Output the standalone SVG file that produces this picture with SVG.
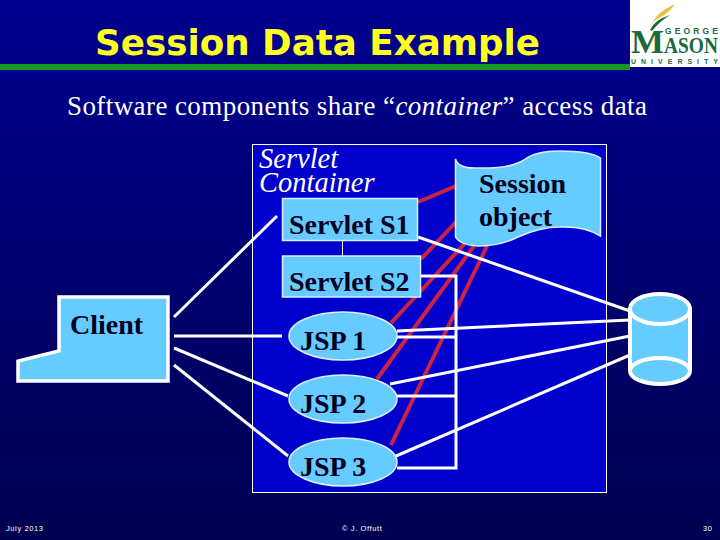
<svg xmlns="http://www.w3.org/2000/svg" width="720" height="540" viewBox="0 0 720 540">
<style>
.w{stroke:#fff;fill:none;stroke-width:3}
.r{stroke:#cc2244;fill:none;stroke-width:4}
.n{fill:#66ccff;stroke:#ddeeff;stroke-width:1.5}
.t{font-family:"Liberation Serif",serif;font-weight:bold;font-size:28px;fill:#000022}
.c{font-family:"Liberation Serif",serif;font-style:italic;font-size:28.500px;fill:#fff}
.f{font-family:"Liberation Sans",sans-serif;font-size:7.500px;letter-spacing:.6px;fill:#fff}
.g{fill:#1a6b3c}
</style>
<defs><linearGradient id="bg" x1="0" y1="0" x2="0" y2="1"><stop offset="0" stop-color="#000090"/><stop offset="1" stop-color="#000050"/></linearGradient></defs>
<rect width="720" height="540" fill="url(#bg)"/>
<rect x="0" y="64" width="630" height="6" fill="#129a22"/>
<rect x="630" y="0" width="90" height="67" fill="#fff"/>
<g id="logo">
<path d="M651 26Q655 13 675 4Q670 13 654 21Z" fill="#eec040"/>
<path d="M650 30Q654 20 670 15Q660 21 652 31Z" fill="#1a6b3c"/>
<text class="g" x="665" y="33.500" font-family="Liberation Sans,sans-serif" font-weight="bold" font-size="8.500" textLength="53">GEORGE</text>
<text class="g" x="631" y="53" font-family="Liberation Serif,serif" font-weight="bold" font-size="34" textLength="33" lengthAdjust="spacingAndGlyphs">M</text>
<text class="g" x="664" y="53" font-family="Liberation Serif,serif" font-weight="bold" font-size="24" textLength="54" lengthAdjust="spacingAndGlyphs">ASON</text>
<text class="g" x="631" y="63.500" font-family="Liberation Sans,sans-serif" font-weight="bold" font-size="7" textLength="87">UNIVERSITY</text>
</g>
<text x="95" y="55" font-family="DejaVu Sans,sans-serif" font-weight="bold" font-size="35" fill="#ffff22" textLength="445" lengthAdjust="spacingAndGlyphs">Session Data Example</text>
<text x="67" y="115" font-family="Liberation Serif,serif" font-size="27" fill="#fff" textLength="580">Software components share “<tspan font-style="italic">container</tspan>” access data</text>
<rect id="container" x="252.500" y="144.500" width="354" height="348" fill="#0000cc" stroke="#fff" stroke-width="1"/>
<g id="connectors">
<path class="r" d="M418 202L456 186M456 222L421 259M468 240L391 323M474 246L377 379M487 246L391 445"/>
<path class="w" d="M174 317L277 216M174 336H282M174 348L288 396M174 365L288 456"/>
<path class="w" d="M418 237L630 311M397 331L630 320M390 384L630 336M396 456L630 355"/>
<path class="w" d="M421 276H456V468H397M397 337H456M397 396H456"/>
<path d="M342.500 241V256" stroke="#fff" stroke-width="1" fill="none"/>
</g>
<g id="container-label"><text class="c" x="259" y="168">Servlet</text>
<text class="c" x="259" y="192">Container</text></g>
<g id="s1"><rect class="n" x="282.500" y="198.500" width="135" height="42"/><text class="t" x="289" y="234">Servlet S1</text></g>
<g id="s2"><rect class="n" x="282.500" y="256" width="138" height="41"/><text class="t" x="289" y="291">Servlet S2</text></g>
<g id="session"><path class="n" d="M455.500 159Q458 168 475 168Q510 169 524 160Q535 151 560 151Q590 151 600.500 158V236Q585 226 560 227Q540 227 518 237Q500 246 478 246Q460 245 455.500 237Z"/><text class="t" x="479" y="193">Session</text><text class="t" x="479" y="226">object</text></g>
<g id="jsp1"><ellipse class="n" cx="343" cy="336" rx="54" ry="24"/><text class="t" x="300" y="350">JSP 1</text></g>
<g id="jsp2"><ellipse class="n" cx="343" cy="399" rx="54" ry="24"/><text class="t" x="300" y="413">JSP 2</text></g>
<g id="jsp3"><ellipse class="n" cx="343" cy="462" rx="54" ry="24"/><text class="t" x="300" y="476">JSP 3</text></g>
<g id="client"><path d="M59 297H168V381H18V361L59 351Z" fill="#66ccff" stroke="#fff" stroke-width="3.500"/><text class="t" x="70" y="334">Client</text></g>
<g id="db"><path d="M630 309V371A30 13 0 0 0 690 371V309Z" fill="#66ccff" stroke="#fff" stroke-width="4"/><ellipse cx="660" cy="309" rx="30" ry="15" fill="#66ccff" stroke="#fff" stroke-width="4"/><path d="M630 371A30 13 0 0 1 690 371" fill="none" stroke="#fff" stroke-width="4"/></g>
<text class="f" x="6" y="531">July 2013</text>
<text class="f" x="342" y="531">© J. Offutt</text>
<text class="f" x="703" y="531">30</text>
</svg>
